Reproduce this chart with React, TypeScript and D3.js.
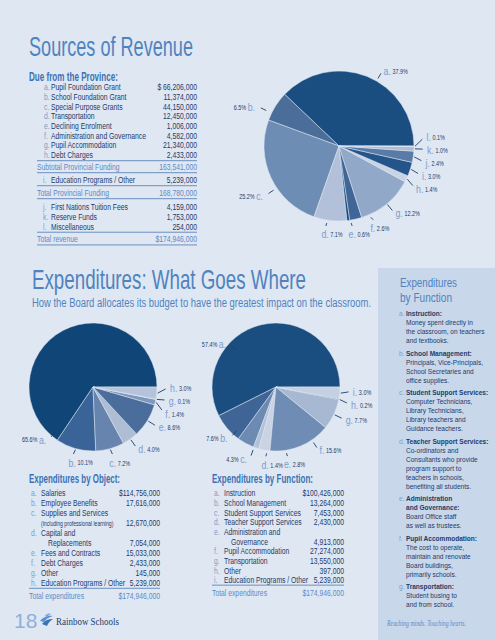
import React from 'react';
import * as d3 from 'd3';

// ---------- DATA ----------
const provLetters = ['a', 'b', 'c', 'd', 'e', 'f', 'g', 'h'];
const provNames = ['Pupil Foundation Grant', 'School Foundation Grant', 'Special Purpose Grants', 'Transportation', 'Declining Enrolment', 'Administration and Governance', 'Pupil Accommodation', 'Debt Charges'];
const provAmounts = [66206000, 11374000, 44150000, 12450000, 1006000, 4582000, 21340000, 2433000];
const subtotalProvincial = 163541000;
const eduOther = { letter: 'i', name: 'Education Programs / Other', amount: 5239000 };
const totalProvincial = 168780000;
const otherLetters = ['j', 'k', 'l'];
const otherNames = ['First Nations Tuition Fees', 'Reserve Funds', 'Miscellaneous'];
const otherAmounts = [4159000, 1753000, 254000];
const totalRevenue = 174946000;

const revLetters = ['a', 'b', 'c', 'd', 'e', 'f', 'g', 'h', 'i', 'j', 'k', 'l'];
const revPct = [37.9, 6.5, 25.2, 7.1, 0.6, 2.6, 12.2, 1.4, 3.0, 2.4, 1.0, 0.1];

const objLetters = ['a', 'b', 'c', 'd', 'e', 'f', 'g', 'h'];
const objNames = ['Salaries', 'Employee Benefits', 'Supplies and Services', 'Capital and', 'Fees and Contracts', 'Debt Charges', 'Other', 'Education Programs / Other'];
const objSublines = ['', '', '(including professional learning)', 'Replacements', '', '', '', ''];
const objAmounts = [114756000, 17616000, 12670000, 7054000, 15033000, 2433000, 145000, 5239000];
const objPct = [65.6, 10.1, 7.2, 4.0, 8.6, 1.4, 0.1, 3.0];

const funcLetters = ['a', 'b', 'c', 'd', 'e', 'f', 'g', 'h', 'i'];
const funcNames = ['Instruction', 'School Management', 'Student Support Services', 'Teacher Support Services', 'Administration and', 'Pupil Accommodation', 'Transportation', 'Other', 'Education Programs / Other'];
const funcSublines = ['', '', '', '', 'Governance', '', '', '', ''];
const funcAmounts = [100426000, 13264000, 7453000, 2430000, 4913000, 27274000, 13550000, 397000, 5239000];
const funcPct = [57.4, 7.6, 4.3, 1.4, 2.8, 15.6, 7.7, 0.2, 3.0];
const totalExpenditures = 174946000;

const sideLetters = ['a', 'b', 'c', 'd', 'e', 'f', 'g'];
const sideHeads = [['Instruction:'], ['School Management:'], ['Student Support Services:'], ['Teacher Support Services:'], ['Administration', 'and Governance:'], ['Pupil Accommodation:'], ['Transportation:']];
const sideBodies = [
  ['Money spent directly in', 'the classroom, on teachers', 'and textbooks.'],
  ['Principals, Vice-Principals,', 'School Secretaries and', 'office supplies.'],
  ['Computer Technicians,', 'Library Technicians,', 'Library teachers and', 'Guidance teachers.'],
  ['Co-ordinators and', 'Consultants who provide', 'program support to', 'teachers in schools,', 'benefiting all students.'],
  ['Board Office staff', 'as well as trustees.'],
  ['The cost to operate,', 'maintain and renovate', 'Board buildings,', 'primarily schools.'],
  ['Student busing to', 'and from school.'],
];

// ---------- STYLE ----------
const NARROW = "'Liberation Sans','DejaVu Sans',sans-serif";
const SERIF = "'Liberation Serif','DejaVu Serif',serif";
const SX = 0.79;
const FS = 8.6;
const C = {
  bg: '#dfe7f3', side: '#c9d7ea', title: '#4f83be', head: '#3d72b1', text: '#1d3b6a',
  letter: '#7d9dc9', sub: '#5b8cc6', rule: '#5d86bb', dark: '#1d3b6a',
};
const revColors = ['#1b4e80', '#4a6e99', '#6e8db5', '#b2c1d9', '#1b4e80', '#3f6696', '#91a8c8', '#c8d3e4', '#24548a', '#5a7ba5', '#afbed5', '#e4eaf3'];
const objColors = ['#0f4577', '#3a6497', '#6684ae', '#aebcd4', '#4a6d9c', '#7d97bd', '#c5d0e2', '#b5c3da'];
const funcColors = ['#1b4e80', '#3e6595', '#6d8ab2', '#b4c2d9', '#c9d3e4', '#6f8cb5', '#a7b8d2', '#1b4e80', '#c5d0e2'];

const fmt = d3.format(',');

// condensed text: horizontally scaled sans
function T(props: any) {
  const { x, y, sx = SX, children, ...rest } = props;
  return (
    <text transform={`translate(${x},${y}) scale(${sx},1)`} fontFamily={NARROW} {...rest}>{children}</text>
  );
}

type Ov = Record<string, [number, number]>;

function PieChart(props: { values: number[]; letters: string[]; colors: string[]; cx: number; cy: number; r: number; overrides: Ov }) {
  const { values, letters, colors, cx, cy, r, overrides } = props;
  const arcs = d3.pie<number>().sort(null).value(d => d)
    .startAngle(Math.PI / 2).endAngle(Math.PI / 2 - 2 * Math.PI)(values);
  const arcGen = d3.arc<d3.PieArcDatum<number>>().innerRadius(0).outerRadius(r);
  const base = r + 12;
  const gap = 13;
  const labels = arcs.map((a, i) => {
    const letter = letters[i];
    const ov = overrides[letter];
    const mid = (a.startAngle + a.endAngle) / 2;
    const ang = ov ? Math.PI / 2 - (ov[0] * Math.PI) / 180 : mid;
    const rr = base + (ov ? ov[1] : 0);
    const dx = Math.sin(ang), dy = -Math.cos(ang);
    return { i, letter, mid, ang, rr, dx, dy, x: cx + rr * dx, y: cy + rr * dy, ov: !!ov, relax: !ov && Math.abs(dy) < 0.9 };
  });
  for (const side of [1, -1]) {
    const g = labels.filter(l => l.relax && Math.sign(l.dx) === side).sort((p, q) => p.y - q.y);
    for (let it = 0; it < 300; it++) {
      for (let k = 0; k < g.length - 1; k++) {
        const d = g[k + 1].y - g[k].y;
        if (d < gap) { const s = (gap - d) / 2; g[k].y -= s; g[k + 1].y += s; }
      }
    }
    g.forEach(l => { const h = l.y - cy; l.x = cx + side * Math.sqrt(Math.max(0, l.rr * l.rr - h * h)); });
  }
  return (
    <g>
      {arcs.map((a, i) => (
        <path key={i} d={arcGen(a) || ''} transform={`translate(${cx},${cy})`} fill={colors[i]} stroke={C.bg} strokeWidth={0.5} />
      ))}
      {labels.map(l => {
        const mode = l.dx < -0.3 ? 'left' : l.dy > 0.9 ? 'bottom' : 'right';
        let sx, sy, tx, ty;
        if (l.ov) {
          sx = cx + (l.rr - 9) * l.dx; sy = cy + (l.rr - 9) * l.dy;
          tx = cx + (l.rr - 3) * l.dx; ty = cy + (l.rr - 3) * l.dy;
        } else {
          const mx = Math.sin(l.mid), my = -Math.cos(l.mid);
          sx = cx + (r + 1) * mx; sy = cy + (r + 1) * my;
          tx = sx + 0.7 * (l.x - sx); ty = sy + 0.7 * (l.y - sy);
        }
        if (mode === 'bottom') { ty -= 3; }
        const pct = values[l.i].toFixed(1) + '%';
        return (
          <g key={'l' + l.i}>
            <line x1={sx} y1={sy} x2={tx} y2={ty} stroke={C.dark} strokeWidth={0.9} />
            {mode === 'left' ? (
              <T x={l.x - 3} y={l.y} sx={0.8} textAnchor="end" dominantBaseline="central">
                <tspan fontSize={6.8} fill={C.dark}>{pct}</tspan>
                <tspan dx={2} fontSize={11} fill={C.letter}>{l.letter}.</tspan>
              </T>
            ) : (
              <T x={mode === 'bottom' ? l.x - 4 : l.x + 1} y={mode === 'bottom' ? l.y + 2 : l.y} sx={0.8} dominantBaseline="central">
                <tspan fontSize={11} fill={C.letter}>{l.letter}.</tspan>
                <tspan dx={2} fontSize={6.8} fill={C.dark}>{pct}</tspan>
              </T>
            )}
          </g>
        );
      })}
    </g>
  );
}

function Rule({ x1, x2, y }: { x1: number; x2: number; y: number }) {
  return <line x1={x1} x2={x2} y1={y} y2={y} stroke={C.rule} strokeWidth={0.9} />;
}

function Row({ lx, nx, vx, y, letter, name, value, size = FS }: { lx: number; nx: number; vx: number; y: number; letter?: string; name: string; value?: string; size?: number }) {
  return (
    <g fontSize={size}>
      {letter && <T x={lx} y={y + 3} fill={C.letter}>{letter}.</T>}
      <T x={nx} y={y + 3} fill={C.text}>{name}</T>
      {value && <T x={vx} y={y + 3} fill={C.text} textAnchor="end">{value}</T>}
    </g>
  );
}

function RevenueTable() {
  const lx = 45, nx = 51, vx = 197, x1 = 37;
  const step = 9.67;
  const y0 = 87.3;
  const hY = y0 + step * (provNames.length - 1);
  const lineA = hY + 5.7, subY = lineA + 6.6, lineB = subY + 5.4, iY = lineB + 7, lineC = iY + 6;
  const tpY = lineC + 7, lineD = tpY + 6, jY = lineD + 8.6;
  const lY = jY + step * (otherNames.length - 1);
  const lineE = lY + 5.6, totY = lineE + 7, lineF = totY + 5.7;
  return (
    <g>
      <text x={29} y={56} fontFamily={NARROW} fontSize={28} fill={C.title} textLength={164} lengthAdjust="spacingAndGlyphs">Sources of Revenue</text>
      <text x={29} y={81} fontFamily={NARROW} fontSize={13} fontWeight="bold" fill={C.head} textLength={89} lengthAdjust="spacingAndGlyphs">Due from the Province:</text>
      {provNames.map((n, i) => (
        <Row key={i} lx={lx - 1} nx={nx} vx={vx} y={y0 + i * step} letter={provLetters[i]} name={n} value={(i === 0 ? '$ ' : '') + fmt(provAmounts[i])} />
      ))}
      <Rule x1={x1} x2={vx} y={lineA} />
      <T x={x1} y={subY + 3} fontSize={FS} fill={C.sub}>Subtotal Provincial Funding</T>
      <T x={vx} y={subY + 3} fontSize={FS} fill={C.sub} textAnchor="end">{fmt(subtotalProvincial)}</T>
      <Rule x1={x1} x2={vx} y={lineB} />
      <Row lx={lx - 2} nx={nx} vx={vx} y={iY} letter={eduOther.letter} name={eduOther.name} value={fmt(eduOther.amount)} />
      <Rule x1={x1} x2={vx} y={lineC} />
      <T x={x1} y={tpY + 3} fontSize={FS} fill={C.sub}>Total Provincial Funding</T>
      <T x={vx} y={tpY + 3} fontSize={FS} fill={C.sub} textAnchor="end">{fmt(totalProvincial)}</T>
      <Rule x1={x1} x2={vx} y={lineD} />
      {otherNames.map((n, i) => (
        <Row key={'o' + i} lx={lx - 2} nx={nx} vx={vx} y={jY + i * step} letter={otherLetters[i]} name={n} value={fmt(otherAmounts[i])} />
      ))}
      <Rule x1={x1} x2={vx} y={lineE} />
      <T x={x1} y={totY + 3} fontSize={FS} fill={C.sub}>Total revenue</T>
      <T x={vx} y={totY + 3} fontSize={FS} fill={C.sub} textAnchor="end">${fmt(totalRevenue)}</T>
      <Rule x1={x1} x2={vx} y={lineF} />
    </g>
  );
}

function ExpTable(props: { title: string; titleLen: number; x0: number; lx: number; nx: number; subx: number; vx: number; y0: number; step: number; letters: string[]; names: string[]; sublines: string[]; amounts: number[] }) {
  const { title, titleLen, x0, lx, nx, subx, vx, y0, step, letters, names, sublines, amounts } = props;
  const rows: any[] = [];
  let y = y0;
  names.forEach((n, i) => {
    const val = (i === 0 ? '$' : '') + fmt(amounts[i]);
    if (sublines[i]) {
      rows.push(<Row key={'r' + i} lx={lx} nx={nx} vx={vx} y={y} letter={letters[i]} name={n} />);
      y += step;
      const small = sublines[i].startsWith('(');
      rows.push(<Row key={'s' + i} lx={lx} nx={small ? nx : subx} vx={vx} y={y} name={sublines[i]} size={small ? 6.5 : FS} />);
      rows.push(<T key={'v' + i} x={vx} y={y + 3} fontSize={FS} fill={C.text} textAnchor="end">{val}</T>);
    } else {
      rows.push(<Row key={'r' + i} lx={lx} nx={nx} vx={vx} y={y} letter={letters[i]} name={n} value={val} />);
    }
    y += step;
  });
  const lastY = y - step;
  return (
    <g>
      <text x={x0} y={483} fontFamily={NARROW} fontSize={13} fontWeight="bold" fill={C.head} textLength={titleLen} lengthAdjust="spacingAndGlyphs">{title}</text>
      {rows}
      <Rule x1={x0} x2={vx} y={lastY + 5} />
      <T x={x0} y={lastY + 16} fontSize={FS} fill={C.sub}>Total expenditures</T>
      <T x={vx} y={lastY + 16} fontSize={FS} fill={C.sub} textAnchor="end">${fmt(totalExpenditures)}</T>
    </g>
  );
}

function Sidebar() {
  const x = 378, lx = 399, tx = 406;
  const items: any[] = [];
  let y = 316;
  const fs = 8;
  sideLetters.forEach((l, i) => {
    items.push(<T key={'l' + i} x={lx} y={y} sx={0.82} fontSize={fs} fill={C.letter}>{l}.</T>);
    sideHeads[i].forEach((h, k) => {
      items.push(<T key={'h' + i + k} x={tx} y={y} sx={0.82} fontSize={fs} fontWeight="bold" fill={C.text}>{h}</T>);
      y += 9;
    });
    sideBodies[i].forEach((b, k) => {
      items.push(<T key={'b' + i + k} x={tx} y={y} sx={0.82} fontSize={fs} fill={C.text}>{b}</T>);
      y += 9;
    });
    y += 3.5;
  });
  return (
    <g>
      <rect x={x} y={268} width={495 - x} height={640 - 268} fill={C.side} />
      <text x={400} y={287} fontFamily={NARROW} fontSize={12} fill={C.title} textLength={57} lengthAdjust="spacingAndGlyphs">Expenditures</text>
      <text x={400} y={302} fontFamily={NARROW} fontSize={12} fill={C.title} textLength={52} lengthAdjust="spacingAndGlyphs">by Function</text>
      {items}
      <text x={387} y={626} fontFamily={SERIF} fontStyle="italic" fontSize={7.5} fill={C.sub} textLength={79} lengthAdjust="spacingAndGlyphs">Reaching minds. Touching hearts.</text>
    </g>
  );
}

export default function App() {
  return (
    <svg width={495} height={640} viewBox="0 0 495 640" style={{ position: 'absolute', left: 0, top: 0, display: 'block' }}>
      <rect x={0} y={0} width={495} height={640} fill={C.bg} />
      <Sidebar />
      <RevenueTable />
      <PieChart values={revPct} letters={revLetters} colors={revColors} cx={339} cy={146} r={75}
        overrides={{ a: [60, 0], b: [154, 3], c: [214, 1], d: [261, 0], e: [279, 0], f: [294, 0] }} />

      <text x={32} y={289} fontFamily={NARROW} fontSize={28} fill={C.title} textLength={274} lengthAdjust="spacingAndGlyphs">Expenditures: What Goes Where</text>
      <text x={32} y={307} fontFamily={NARROW} fontSize={12.5} fill={C.title} textLength={339} lengthAdjust="spacingAndGlyphs">How the Board allocates its budget to have the greatest impact on the classroom.</text>

      <PieChart values={objPct} letters={objLetters} colors={objColors} cx={93} cy={387} r={64}
        overrides={{ a: [230, -8] }} />
      <PieChart values={funcPct} letters={funcLetters} colors={funcColors} cx={276} cy={387} r={64}
        overrides={{ a: [137, -12], b: [228, -8], c: [250, 0], d: [262, 0], e: [279, 0], f: [304, 0] }} />

      <ExpTable title="Expenditures by Object:" titleLen={91} x0={29} lx={31} nx={41} subx={48} vx={160} y0={493.3} step={10}
        letters={objLetters} names={objNames} sublines={objSublines} amounts={objAmounts} />
      <ExpTable title="Expenditures by Function:" titleLen={101} x0={212} lx={214} nx={224} subx={231} vx={344} y0={493.3} step={9.65}
        letters={funcLetters} names={funcNames} sublines={funcSublines} amounts={funcAmounts} />

      <text x={14} y={628} fontFamily={NARROW} fontSize={21} fill="#8fb0d8" fontWeight="300">18</text>
      <g transform="translate(40,613)">
        <path d="M0,8 C3,4 8,2 13,3 C9,4 6,6 4,9 Z" fill="#5b8fd0" />
        <path d="M2,11 C5,7 9,6 13,6 C10,8 8,10 7,13 Z" fill="#3d72b1" />
        <path d="M5,3 C6,1 9,0 11,1 C9,2 8,3 7,4 Z" fill="#7fa8dc" />
      </g>
      <text x={56} y={625} fontFamily={SERIF} fontSize={10.5} fill={C.text} textLength={63} lengthAdjust="spacingAndGlyphs">Rainbow Schools</text>
    </svg>
  );
}
